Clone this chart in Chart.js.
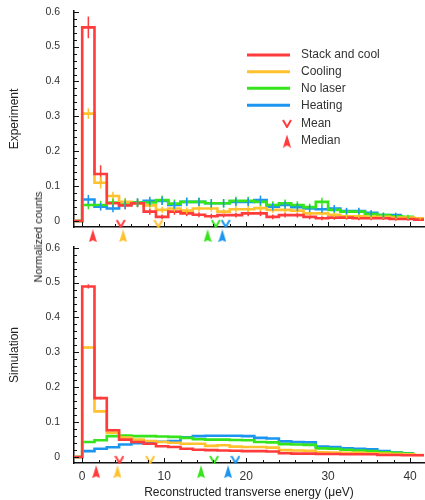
<!DOCTYPE html>
<html>
<head>
<meta charset="utf-8">
<script src="https://cdn.jsdelivr.net/npm/chart.js@4.4.1/dist/chart.umd.min.js"></script>
<style>
  html, body { margin: 0; padding: 0; background: #fff; }
  #wrap { position: relative; width: 425px; height: 500px; overflow: hidden; font-family: "Liberation Sans", Arial, sans-serif; }
  #wrap canvas { position: absolute; left: 0; }
  #topCanvas { top: 0; }
  #bottomCanvas { top: 236px; }
  #ylabel { position: absolute; left: 38px; top: 237px; transform: translate(-50%, -50%) rotate(-90deg); font-size: 11px; color: #222; white-space: nowrap; }
</style>
</head>
<body>
<div id="wrap">
  <canvas id="topCanvas" width="425" height="250"></canvas>
  <canvas id="bottomCanvas" width="425" height="264"></canvas>
  <div id="ylabel">Normalized counts</div>
</div>
<script>
const FONT = "'Liberation Sans', Arial, sans-serif";
const binWidth = 1.5; // µeV per bin
const seriesNames = ["Stack and cool", "Cooling", "No laser", "Heating"];
const seriesColors = ["#ff3b3b", "#ffc22e", "#36e41c", "#1b95f0"];
const xTicks = [0, 10, 20, 30, 40];
const yTicks = [0, 0.1, 0.2, 0.3, 0.4, 0.5, 0.6];

// experiment histograms
const expStack = [0.555, 0.135, 0.051, 0.045, 0.051, 0.027, 0.012, 0.027, 0.022, 0.018, 0.014, 0.017, 0.017, 0.022, 0.022, 0.012, 0.017, 0.017, 0.012, 0.008, 0.010, 0.010, 0.008, 0.008, 0.008, 0.006, 0.006, 0.004];
const expCooling = [0.308, 0.110, 0.072, 0.055, 0.050, 0.045, 0.032, 0.036, 0.030, 0.036, 0.036, 0.027, 0.034, 0.034, 0.037, 0.032, 0.032, 0.030, 0.022, 0.022, 0.018, 0.014, 0.014, 0.012, 0.012, 0.010, 0.010, 0.008];
const expNoLaser = [0.046, 0.046, 0.053, 0.053, 0.053, 0.053, 0.060, 0.050, 0.055, 0.055, 0.051, 0.051, 0.058, 0.058, 0.055, 0.046, 0.051, 0.046, 0.040, 0.055, 0.032, 0.027, 0.027, 0.020, 0.017, 0.014, 0.012];
const expHeating = [0.062, 0.041, 0.036, 0.046, 0.053, 0.058, 0.058, 0.046, 0.055, 0.055, 0.051, 0.051, 0.055, 0.055, 0.060, 0.041, 0.046, 0.040, 0.036, 0.034, 0.036, 0.029, 0.029, 0.024, 0.017, 0.017];

// experiment error bars (half heights)
const expStackErr = [0.031, 0.025, 0.012, 0.011, 0.011, 0.009, 0.007, 0.009, 0.008, 0.007, 0.007, 0.007, 0.007, 0.008, 0.008, 0.007, 0.007, 0.007, 0.007, 0.006, 0.006, 0.006, 0.006, 0.006, 0.005, 0.005, 0.005, 0.004];
const expCoolingErr = [0.015, 0.017, 0.012, 0.011, 0.011, 0.010, 0.009, 0.009, 0.009, 0.009, 0.009, 0.008, 0.009, 0.009, 0.009, 0.008, 0.008, 0.008, 0.007, 0.007, 0.007, 0.006, 0.006, 0.006, 0.005, 0.005, 0.005, 0.004];
const expNoLaserErr = [0.012, 0.012, 0.012, 0.012, 0.012, 0.012, 0.013, 0.012, 0.012, 0.012, 0.012, 0.012, 0.012, 0.012, 0.012, 0.011, 0.011, 0.011, 0.010, 0.012, 0.009, 0.009, 0.009, 0.008, 0.007, 0.007, 0.006];
const expHeatingErr = [0.013, 0.011, 0.011, 0.012, 0.012, 0.012, 0.012, 0.011, 0.012, 0.012, 0.012, 0.012, 0.012, 0.012, 0.013, 0.011, 0.011, 0.011, 0.010, 0.010, 0.010, 0.009, 0.009, 0.008, 0.007, 0.007];

// simulation histograms
const simStack = [0.489, 0.169, 0.077, 0.050, 0.043, 0.038, 0.031, 0.029, 0.024, 0.021, 0.020, 0.019, 0.018, 0.017, 0.017, 0.016, 0.011, 0.010, 0.010, 0.009, 0.009, 0.008, 0.008, 0.008, 0.006, 0.006, 0.005, 0.005];
const simCooling = [0.314, 0.131, 0.070, 0.056, 0.050, 0.046, 0.043, 0.041, 0.038, 0.038, 0.032, 0.034, 0.030, 0.029, 0.029, 0.027, 0.020, 0.019, 0.018, 0.014, 0.013, 0.012, 0.012, 0.011, 0.010, 0.009, 0.008, 0.006];
const simNoLaser = [0.043, 0.048, 0.060, 0.062, 0.060, 0.060, 0.059, 0.058, 0.055, 0.051, 0.050, 0.050, 0.049, 0.048, 0.043, 0.042, 0.037, 0.036, 0.035, 0.025, 0.024, 0.021, 0.019, 0.017, 0.014, 0.012, 0.010];
const simHeating = [0.017, 0.024, 0.028, 0.036, 0.040, 0.042, 0.044, 0.046, 0.057, 0.060, 0.061, 0.061, 0.061, 0.060, 0.055, 0.053, 0.045, 0.043, 0.042, 0.030, 0.029, 0.025, 0.024, 0.022, 0.017, 0.013, 0.011];

const simStackErr = [0.006, 0.004, 0.003];
const simCoolingErr = [0.004, 0.003, 0.002];

// mean / median markers (µeV), order: stack, cooling, no laser, heating
const meanExp = [4.7, 9.3, 16.3, 17.5];
const medianExp = [1.3, 5.0, 15.3, 17.1];
const meanSim = [4.55, 8.3, 16.1, 18.7];
const medianSim = [1.7, 4.3, 14.5, 17.8];

function makeMeanIcon(color) {
    const c = document.createElement("canvas");
    c.width = 10; c.height = 9;
    const g = c.getContext("2d");
    g.strokeStyle = color;
    g.lineWidth = 2;
    g.beginPath();
    g.moveTo(1, 1); g.lineTo(5, 8); g.lineTo(9, 1);
    g.stroke();
    return c;
}

function makeMedianIcon(color) {
    const c = document.createElement("canvas");
    c.width = 8; c.height = 13;
    const g = c.getContext("2d");
    g.fillStyle = color;
    g.beginPath();
    g.moveTo(4, 0); g.lineTo(8, 13); g.lineTo(4, 11); g.lineTo(0, 13);
    g.closePath();
    g.fill();
    return c;
}

const meanIcons = seriesColors.map(makeMeanIcon);
const medianIcons = seriesColors.map(makeMedianIcon);

// histogram -> step points (each point carries its bin value to the right)
function steps(values) {
    const pts = [{ x: -1, y: 0 }];
    values.forEach((v, i) => pts.push({ x: i * binWidth, y: v }));
    pts.push({ x: values.length * binWidth, y: values[values.length - 1] });
    return pts;
}

const errorBars = {
    id: "errorBars",
    afterDatasetsDraw(chart) {
        const { ctx, scales: { x, y } } = chart;
        ctx.save();
        ctx.lineWidth = 1.5;
        chart.data.datasets.forEach(ds => {
            if (!ds.errors) return;
            ctx.strokeStyle = ds.borderColor;
            ds.errors.forEach((e, i) => {
                const v = ds.values[i];
                const px = x.getPixelForValue((i + 0.5) * binWidth);
                ctx.beginPath();
                ctx.moveTo(px, y.getPixelForValue(v - e));
                ctx.lineTo(px, y.getPixelForValue(v + e));
                ctx.stroke();
            });
        });
        ctx.restore();
    }
};

const innerTicks = {
    id: "innerTicks",
    afterDraw(chart) {
        const { ctx, chartArea: a, scales: { x, y } } = chart;
        ctx.save();
        ctx.strokeStyle = "#111";
        ctx.lineWidth = 1;
        for (let v = 0; v <= 40; v += 2) {
            const px = Math.round(x.getPixelForValue(v)) + 0.5;
            const len = v % 10 === 0 ? 5 : 3;
            ctx.beginPath();
            ctx.moveTo(px, a.bottom);
            ctx.lineTo(px, a.bottom - len);
            ctx.stroke();
        }
        for (let k = 0; k <= 30; k++) {
            const py = Math.round(y.getPixelForValue(k * 0.02)) + 0.5;
            const len = k % 5 === 0 ? 5 : 3;
            ctx.beginPath();
            ctx.moveTo(a.left, py);
            ctx.lineTo(a.left + len, py);
            ctx.stroke();
        }
        ctx.restore();
    }
};

const legendBox = {
    id: "legendBox",
    afterDraw(chart) {
        const ctx = chart.ctx;
        const rows = [55, 71.7, 88.3, 105.3];
        ctx.save();
        ctx.font = "12px " + FONT;
        ctx.textBaseline = "middle";
        seriesNames.forEach((name, i) => {
            ctx.strokeStyle = seriesColors[i];
            ctx.lineWidth = 3;
            ctx.beginPath();
            ctx.moveTo(247, rows[i]);
            ctx.lineTo(290, rows[i]);
            ctx.stroke();
            ctx.fillStyle = "#333";
            ctx.fillText(name, 301, rows[i]);
        });
        ctx.drawImage(meanIcons[0], 287 - 5, 123.5 - 4.5);
        ctx.fillText("Mean", 301, 124);
        ctx.drawImage(medianIcons[0], 287 - 4, 141 - 6.5);
        ctx.fillText("Median", 301, 141);
        ctx.restore();
    }
};

function buildChart(canvasId, series, errors, means, medians, isBottom) {
    const datasets = series.map((vals, i) => ({
        label: seriesNames[i],
        data: steps(vals),
        values: vals,
        errors: errors[i],
        stepped: true,
        borderColor: seriesColors[i],
        borderWidth: 2.6,
        pointRadius: 0,
        fill: false,
        order: i
    }));
    datasets.push({
        label: "Mean",
        data: means.map(x => ({ x: x, y: -0.007 })),
        showLine: false,
        pointStyle: meanIcons,
        pointRadius: 25,
        clip: false,
        order: 10
    });
    datasets.push({
        label: "Median",
        data: medians.map(x => ({ x: x, y: -0.042 })),
        showLine: false,
        pointStyle: medianIcons,
        pointRadius: 25,
        clip: false,
        order: 11
    });

    const plugins = [errorBars, innerTicks];
    if (!isBottom) plugins.push(legendBox);

    return new Chart(document.getElementById(canvasId).getContext("2d"), {
        type: "line",
        data: { datasets: datasets },
        plugins: plugins,
        options: {
            responsive: false,
            animation: false,
            events: [],
            layout: { autoPadding: false, padding: { left: 0, right: 1, top: 11, bottom: isBottom ? 0 : 23 } },
            plugins: { legend: { display: false }, tooltip: { enabled: false } },
            scales: {
                x: {
                    type: "linear",
                    min: -1,
                    max: 41.7,
                    afterBuildTicks: s => { s.ticks = xTicks.map(v => ({ value: v })); },
                    afterFit: s => { s.height = isBottom ? 37 : 0; s.paddingLeft = 0; s.paddingRight = 0; },
                    ticks: { display: isBottom, color: "#333", font: { size: 12, family: FONT }, padding: -2, maxRotation: 0 },
                    grid: { display: false },
                    border: { display: true, color: "#111", width: 1.5 },
                    title: {
                        display: isBottom,
                        text: "Reconstructed transverse energy (μeV)",
                        color: "#222",
                        font: { size: 12, family: FONT },
                        padding: 0
                    }
                },
                y: {
                    type: "linear",
                    min: -0.017,
                    max: 0.602,
                    afterBuildTicks: s => { s.ticks = yTicks.map(v => ({ value: v })); },
                    afterFit: s => { s.width = 74; s.paddingTop = 0; s.paddingBottom = 0; },
                    ticks: {
                        color: "#333",
                        font: { size: 10.5, family: FONT },
                        padding: 6,
                        callback: v => (v === 0 ? "0" : v.toFixed(1))
                    },
                    grid: { display: false },
                    border: { display: true, color: "#111", width: 1.5 },
                    title: {
                        display: true,
                        text: isBottom ? "Simulation" : "Experiment",
                        color: "#222",
                        font: { size: 12, family: FONT },
                        padding: { top: 7, bottom: 0 }
                    }
                }
            }
        }
    });
}

buildChart("topCanvas",
    [expStack, expCooling, expNoLaser, expHeating],
    [expStackErr, expCoolingErr, expNoLaserErr, expHeatingErr],
    meanExp, medianExp, false);

buildChart("bottomCanvas",
    [simStack, simCooling, simNoLaser, simHeating],
    [simStackErr, simCoolingErr, null, null],
    meanSim, medianSim, true);
</script>
</body>
</html>
